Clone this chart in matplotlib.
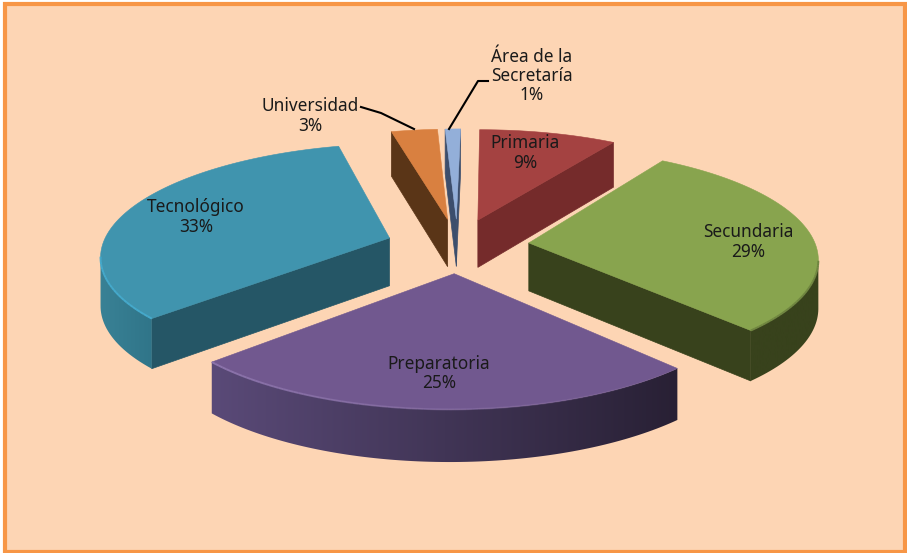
import numpy as np
import matplotlib
matplotlib.use("Agg")
import matplotlib.pyplot as plt
from matplotlib.collections import LineCollection
from matplotlib.colors import LinearSegmentedColormap, to_rgb
from matplotlib.patches import Polygon, Rectangle

plt.rcParams["font.family"] = ["Noto Sans", "DejaVu Sans"]

names = ["Primaria", "Secundaria", "Preparatoria", "Tecnológico", "Universidad", "Área de la\nSecretaría"]
shares = [9, 29, 25, 33, 3, 1]

top_colors = ["#A44241", "#88A44E", "#71588F", "#4094AE", "#D98040", "#93AFD9"]
cut_colors = ["#752B2B", "#38421C", "#2E2440", "#255666", "#5A3517", "#3C4E6C"]
arc_left = ["#752B2B", "#38421C", "#5A4A78", "#3A8296", "#5A3517", "#3C4E6C"]
arc_right = ["#752B2B", "#38421C", "#282034", "#2F7488", "#5A3517", "#3C4E6C"]
rim_colors = [None, "#6F8540", "#8C74AC", "#45A9CB", None, None]

label_xy = [(525, 153), (748, 242), (439, 373.5), (196, 217), (310, 116), (532, 76)]

CX, CY = 457.5, 245.5
RX, RY = 287, 109
PERSP = 0.135
SHEAR = 4
DEPTH = 48
EXPLODE = [0.25, 0.25, 0.25, 0.25, 0.25, 0.25]
BG = "#FDD5B4"
BORDER = "#F79646"


def project(x, y):
    s = 1 / (1 + PERSP * y)
    return CX + RX * x * s + SHEAR * y, CY - RY * y * s, s


def wedge_outline(start, end, explode):
    # angles are clockwise from twelve o'clock, in degrees
    mid = np.radians((start + end) / 2)
    ox, oy = explode * np.sin(mid), explode * np.cos(mid)
    th = np.radians(np.linspace(start, end, 90))
    px, py, ps = project(ox + np.sin(th), oy + np.cos(th))
    ax0, ay0, as0 = project(ox, oy)
    return (ax0, ay0, as0), np.column_stack([px, py]), ps


def extrude(pts, scales):
    top = np.asarray(pts)
    low = top + np.column_stack([np.zeros(len(top)), DEPTH * np.sqrt(scales)])
    return np.vstack([top, low[::-1]])


fig = plt.figure(figsize=(9.07, 5.53), dpi=100)
ax = fig.add_axes([0, 0, 1, 1])
ax.set_xlim(0, 907)
ax.set_ylim(553, 0)
ax.axis("off")
ax.add_patch(Rectangle((0, 0), 907, 553, fc="white", ec="none", zorder=0))
ax.add_patch(Rectangle((5, 3.5), 899.5, 548, fc=BG, ec=BORDER, lw=3, zorder=0.5))

edges = np.concatenate([[0], np.cumsum(shares)]) * 3.6
order = [0, 5, 4, 3, 1, 2]

for z, i in enumerate(order):
    base = 2 + z
    apex, arc, sc = wedge_outline(edges[i], edges[i + 1], EXPLODE[i])
    apex_xy = np.array(apex[:2])

    # the two cut faces, only when they look down towards the viewer
    for p, s_p, sign in [(arc[0], sc[0], 1), (arc[-1], sc[-1], -1)]:
        d = p - apex_xy
        normal_y = sign * d[0] * -1
        if normal_y > 0:
            quad = extrude([apex_xy, p], np.array([apex[2], s_p]))
            ax.add_patch(Polygon(quad, closed=True, fc=cut_colors[i], ec=cut_colors[i], lw=0.5, zorder=base))

    # outer wall, the part of the arc that faces the viewer
    d = np.diff(arc, axis=0)
    front = d[:, 0] < 0
    if front.any():
        idx = np.where(front)[0]
        a, b = idx[0], idx[-1] + 2
        wall = Polygon(extrude(arc[a:b], sc[a:b]), closed=True, fc="none", ec="none", zorder=base)
        ax.add_patch(wall)
        cmap = LinearSegmentedColormap.from_list("wall", [arc_left[i], arc_right[i]])
        x0, x1 = arc[a:b, 0].min(), arc[a:b, 0].max()
        im = ax.imshow(np.linspace(0, 1, 256).reshape(1, -1), cmap=cmap, aspect="auto",
                       extent=(x0 - 3, x1 + 3, 553, 0), zorder=base)
        im.set_clip_path(wall)
        ax.set_xlim(0, 907)
        ax.set_ylim(553, 0)

    top = np.vstack([apex_xy, arc])
    ax.add_patch(Polygon(top, closed=True, fc=top_colors[i], ec=top_colors[i], lw=0.4, zorder=base + 0.2))

    if rim_colors[i] is not None and front.any():
        rim = arc[a:b]
        segs = np.stack([rim[:-1], rim[1:]], axis=1)
        # Preparatoria only catches the light on its left side, so fade it out
        alpha = np.linspace(0, 1, len(segs)) if i == 2 else np.ones(len(segs))
        rgba = [(*to_rgb(rim_colors[i]), al) for al in alpha]
        ax.add_collection(LineCollection(segs, colors=rgba, linewidths=1.4, zorder=base + 0.3))

for name, share, (x, y) in zip(names, shares, label_xy):
    ax.text(x, y, f"{name}\n{share}%", ha="center", va="center", fontsize=12.4,
            color="#1A1A1A", linespacing=1.1, zorder=20)

# leader lines
ax.plot([361, 381, 414], [107, 113, 129], color="black", lw=1.5, zorder=20)
ax.plot([488, 478, 449], [81, 81, 129], color="black", lw=1.5, zorder=20)

fig.savefig("out.png", dpi=100)
